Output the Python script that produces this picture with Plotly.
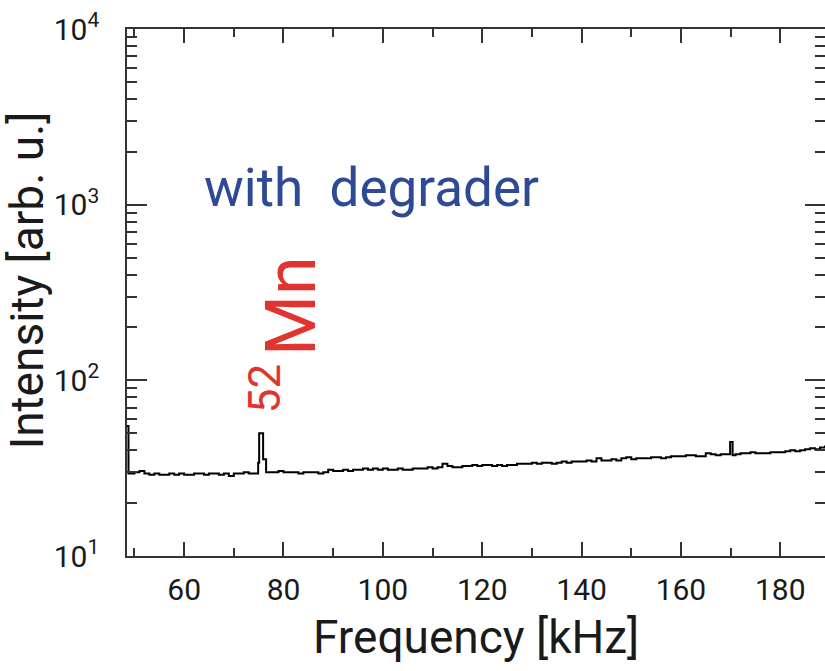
import plotly.graph_objects as go

# Histogram bin left edges (kHz) and intensities (arb. u.)
freq = [48.5, 48.8, 50, 51, 52, 53, 54, 55, 56, 57, 58, 59, 60, 61, 62, 63, 64, 65, 66, 67, 68, 69,
        70, 71, 72, 73, 74, 74.9, 75.1, 75.9, 76.5, 77, 78, 79, 80, 81, 82, 83, 84, 85, 86, 87, 88, 89,
        90, 91, 92, 93, 94, 95, 96, 97, 98, 99, 100, 101, 102, 103, 104, 105, 106, 107, 108, 109,
        110, 111, 112, 113, 114, 115, 116, 117, 118, 119, 120, 121, 122, 123, 124, 125, 126, 127,
        128, 129, 130, 131, 132, 133, 134, 135, 136, 137, 138, 139, 140, 141, 142, 143, 144, 145,
        146, 147, 148, 149, 150, 151, 152, 153, 154, 155, 156, 157, 158, 159, 160, 161, 162, 163,
        164, 165, 166, 167, 168, 169, 169.9, 170.4, 171, 172, 173, 174, 175, 176, 177, 178, 179,
        180, 181, 182, 183, 184, 185, 186, 187, 188, 189, 190]
intensity = [55, 29.5, 30, 30.5, 29.5, 29, 29.5, 29, 29, 29.5, 29, 29.5, 29, 29, 29.5, 29.5, 29, 29.5, 29.5, 29, 29.5, 28.5,
             29.5, 29.5, 30, 29.5, 29.5, 34, 50, 35.5, 30, 30, 30, 30.5, 30, 30, 30, 29.5, 30, 30, 30, 29.5, 30, 31,
             30.5, 30.5, 31, 30.5, 31, 31, 31.5, 31, 31.5, 31, 31.5, 31, 31, 31.5, 31, 31, 31.5, 31.5, 31.5, 32,
             31.5, 32, 33.5, 32.5, 32, 32, 32.5, 32.5, 33, 32.5, 33, 33, 32.5, 33, 32.5, 33, 33, 33.5,
             33.5, 33.5, 34, 33.5, 34, 34, 33.5, 34, 34.5, 34, 34.5, 34.5, 34.5, 35, 34.5, 36, 35, 35,
             35.5, 35, 36, 36.5, 35.5, 36, 36, 36, 36.5, 36.5, 36, 36.5, 37, 37, 37, 37.5, 37.5, 37,
             37, 38.5, 38, 37.5, 38, 38, 44.5, 37.5, 38, 38.5, 38.5, 39, 38.5, 38.5, 38.5, 39, 39,
             39, 39.5, 40, 39.5, 40, 40.5, 41, 40.5, 41.5, 42, 42]

x_tickvals = [60, 80, 100, 120, 140, 160, 180]
x_minorvals = [50, 70, 90, 110, 130, 150, 170]
y_tickvals = [10, 100, 1000, 10000]
y_ticktext = ["10<sup>1</sup>", "10<sup>2</sup>", "10<sup>3</sup>", "10<sup>4</sup>"]

FONT = "Roboto, sans-serif"
AX = "#333333"
TXT = "#1a1a1a"

fig = go.Figure()
fig.add_trace(go.Scatter(x=freq, y=intensity, mode="lines", line=dict(color="black", width=2, shape="hv"),
                         showlegend=False, hoverinfo="skip"))

fig.update_layout(
    width=825, height=671,
    margin=dict(l=127, r=0, t=29, b=115),
    paper_bgcolor="white", plot_bgcolor="white",
    font=dict(family=FONT, color=TXT),
)
fig.update_xaxes(
    range=[48.5, 189.0], showgrid=False, zeroline=False, automargin=False,
    showline=True, linecolor=AX, linewidth=1.5, mirror="allticks",
    tickmode="array", tickvals=x_tickvals, ticks="inside", ticklen=14, tickwidth=1.5, tickcolor=AX,
    tickfont=dict(size=30, family=FONT, color=TXT), ticklabelstandoff=6,
    minor=dict(tickmode="array", tickvals=x_minorvals, ticks="inside",
               ticklen=8, tickwidth=1.5, tickcolor=AX, showgrid=False),
)
fig.update_yaxes(
    type="log", range=[1, 4], showgrid=False, zeroline=False, automargin=False,
    showline=True, linecolor=AX, linewidth=1.5, mirror="allticks",
    tickmode="array", tickvals=y_tickvals, ticktext=y_ticktext,
    ticks="inside", ticklen=20, tickwidth=1.5, tickcolor=AX,
    tickfont=dict(size=30, family=FONT, color=TXT), ticklabelstandoff=20,
    minor=dict(dtick="D1", ticks="inside", ticklen=10, tickwidth=1.5, tickcolor=AX, showgrid=False),
)

fig.add_annotation(text="Frequency [kHz]", xref="paper", yref="paper", x=0.5, y=-0.154,
                   xanchor="center", yanchor="middle", showarrow=False,
                   font=dict(size=46, family=FONT, color=TXT))
fig.add_annotation(text="Intensity [arb. u.]", xref="paper", yref="paper", x=-0.144, y=0.524,
                   xanchor="center", yanchor="middle", showarrow=False, textangle=-90,
                   font=dict(size=46, family=FONT, color=TXT))
fig.add_annotation(text="with  degrader", xref="paper", yref="paper", x=0.35, y=0.698,
                   xanchor="center", yanchor="middle", showarrow=False,
                   font=dict(size=53, family=FONT, color="#2E4A94"))
fig.add_annotation(text="Mn", xref="paper", yref="paper", x=0.234, y=0.475,
                   xanchor="center", yanchor="middle", showarrow=False, textangle=-90,
                   font=dict(size=70, family=FONT, color="#E0342F"))
fig.add_annotation(text="52", xref="paper", yref="paper", x=0.199, y=0.318,
                   xanchor="center", yanchor="middle", showarrow=False, textangle=-90,
                   font=dict(size=44, family=FONT, color="#E0342F"))

fig.write_html("out.html", config={"displayModeBar": False},
               post_script="document.body.style.margin='0';")
